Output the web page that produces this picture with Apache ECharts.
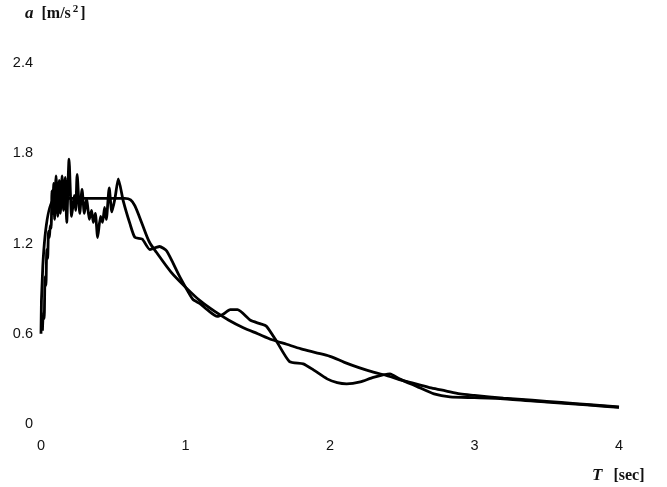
<!DOCTYPE html>
<html>
<head>
<meta charset="utf-8">
<script src="https://cdn.jsdelivr.net/npm/echarts@6/dist/echarts.min.js"></script>
<style>
  html, body { margin: 0; padding: 0; background: #fff; }
  #chart { width: 667px; height: 487px; }
</style>
</head>
<body>
<div id="chart"></div>
<script>
// Period axis ticks (s) and acceleration axis ticks (m/s²)
const periodTicks = [0, 1, 2, 3, 4];
const accelTicks = [0, 0.6, 1.2, 1.8, 2.4];

// Response spectrum of the recorded ground motion: [T, a]
const recordSpectrum = [
  [0.010, 0.62], [0.016, 0.74], [0.022, 0.70], [0.028, 0.98], [0.034, 0.92],
  [0.040, 1.16], [0.046, 1.10], [0.052, 1.28], [0.058, 1.24], [0.064, 1.32],
  [0.070, 1.30], [0.076, 1.55], [0.082, 1.40], [0.088, 1.60], [0.094, 1.36],
  [0.104, 1.65], [0.116, 1.38], [0.126, 1.62], [0.134, 1.40], [0.146, 1.65],
  [0.156, 1.42], [0.168, 1.64], [0.178, 1.34], [0.194, 1.76], [0.212, 1.38],
  [0.230, 1.52], [0.240, 1.42], [0.250, 1.66], [0.268, 1.40], [0.284, 1.56],
  [0.300, 1.40], [0.316, 1.50], [0.334, 1.36], [0.350, 1.42], [0.362, 1.34],
  [0.376, 1.40], [0.392, 1.24], [0.412, 1.38], [0.426, 1.34], [0.440, 1.44],
  [0.452, 1.36], [0.472, 1.57], [0.490, 1.41], [0.512, 1.50], [0.535, 1.63],
  [0.570, 1.48], [0.616, 1.33], [0.650, 1.24], [0.700, 1.23], [0.754, 1.16],
  [0.820, 1.18], [0.870, 1.15], [0.960, 0.98], [1.050, 0.83], [1.100, 0.80],
  [1.150, 0.76], [1.220, 0.715], [1.260, 0.73], [1.310, 0.76], [1.360, 0.76],
  [1.450, 0.69], [1.515, 0.667], [1.560, 0.65], [1.630, 0.55], [1.720, 0.415],
  [1.815, 0.40], [1.885, 0.36], [1.980, 0.30], [2.050, 0.275], [2.115, 0.267],
  [2.210, 0.28], [2.300, 0.31], [2.415, 0.333], [2.480, 0.30], [2.600, 0.25],
  [2.720, 0.20], [2.830, 0.18], [3.000, 0.175], [3.200, 0.168], [3.500, 0.145],
  [3.800, 0.125], [4.000, 0.11]
];

// Smooth design spectrum: [T, a]
const designSpectrum = [
  [0.0, 0.60], [0.1, 1.50], [0.58, 1.50], [0.62, 1.49], [0.65, 1.45],
  [0.70, 1.33], [0.75, 1.21], [0.80, 1.14], [0.90, 1.01], [1.00, 0.91],
  [1.10, 0.82], [1.20, 0.75], [1.30, 0.69], [1.40, 0.64], [1.50, 0.60],
  [1.60, 0.56], [1.70, 0.53], [1.80, 0.50], [1.90, 0.475], [2.00, 0.45],
  [2.10, 0.41], [2.20, 0.375], [2.30, 0.345], [2.40, 0.32], [2.50, 0.29],
  [2.60, 0.265], [2.70, 0.24], [2.80, 0.22], [2.90, 0.20], [3.00, 0.19],
  [3.20, 0.172], [3.40, 0.158], [3.60, 0.143], [3.80, 0.128], [4.00, 0.113]
];

const chart = echarts.init(document.getElementById('chart'), null, { renderer: 'canvas' });

const tickFont = { color: '#111', fontFamily: 'Liberation Sans, Arial, sans-serif', fontSize: 14.5 };
const serif = 'Liberation Serif, Times New Roman, serif';

chart.setOption({
  animation: false,
  backgroundColor: '#fff',
  grid: { left: 41, right: 48, top: 63, bottom: 63, containLabel: false },
  xAxis: {
    type: 'value',
    min: periodTicks[0],
    max: periodTicks[periodTicks.length - 1],
    interval: 1,
    axisLine: { show: false },
    axisTick: { show: false },
    splitLine: { show: false },
    axisLabel: Object.assign({ margin: 14 }, tickFont)
  },
  yAxis: {
    type: 'value',
    min: accelTicks[0],
    max: accelTicks[accelTicks.length - 1],
    interval: 0.6,
    axisLine: { show: false },
    axisTick: { show: false },
    splitLine: { show: false },
    axisLabel: Object.assign({
      margin: 8,
      formatter: v => String(+v.toFixed(1))
    }, tickFont)
  },
  graphic: [
    {
      type: 'text', left: 25, top: 4,
      style: {
        text: '{i|a}{n|[m/s}{s|2}{n|]}',
        rich: {
          i: { fontFamily: serif, fontStyle: 'italic', fontWeight: 'bold', fontSize: 17, fill: '#111', padding: [0, 8, 0, 0] },
          n: { fontFamily: serif, fontWeight: 'bold', fontSize: 16, fill: '#111' },
          s: { fontFamily: serif, fontWeight: 'bold', fontSize: 11, fill: '#111', verticalAlign: 'top', padding: [0, 2, 8, 2] }
        }
      }
    },
    {
      type: 'text', left: 592, top: 467,
      style: {
        text: '{i|T}{n|[sec]}',
        rich: {
          i: { fontFamily: serif, fontStyle: 'italic', fontWeight: 'bold', fontSize: 17, fill: '#111', padding: [0, 11, 0, 0] },
          n: { fontFamily: serif, fontWeight: 'bold', fontSize: 16, fill: '#111' }
        }
      }
    }
  ],
  series: [
    {
      type: 'line',
      data: designSpectrum,
      showSymbol: false,
      smooth: 0.3,
      lineStyle: { color: '#000', width: 2.8 },
      z: 2
    },
    {
      type: 'line',
      data: recordSpectrum,
      showSymbol: false,
      smooth: 0.2,
      lineStyle: { color: '#000', width: 2.8 },
      z: 3
    }
  ]
});
</script>
</body>
</html>
